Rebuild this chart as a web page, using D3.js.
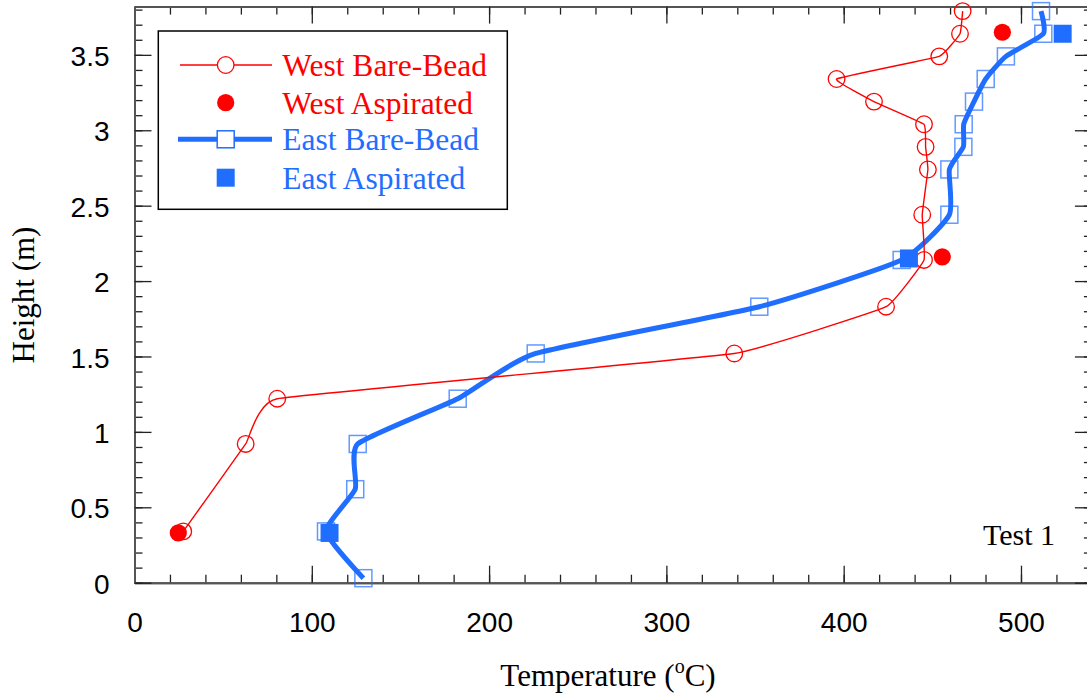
<!DOCTYPE html>
<html>
<head>
<meta charset="utf-8">
<script src="https://d3js.org/d3.v7.min.js"></script>
<style>
  body { margin: 0; background: #fff; overflow: hidden; }
  svg { display: block; }
</style>
</head>
<body>
<svg id="chart" width="1087" height="700"></svg>
<script>
// values
const westHeight = [0.34, 0.92, 1.22, 1.52, 1.83, 2.14, 2.44, 2.74, 2.89, 3.04, 3.19, 3.34, 3.49, 3.64, 3.79];
const westTemp   = [27.5, 62.7, 80.5, 338.3, 423.9, 445.3, 444.3, 447.5, 446.2, 445.3, 417.1, 396, 453.9, 465.6, 467.1];
const eastHeight = [0.03, 0.34, 0.62, 0.92, 1.22, 1.52, 1.83, 2.14, 2.44, 2.74, 2.89, 3.04, 3.19, 3.34, 3.49, 3.64, 3.79];
const eastTemp   = [129.1, 108, 124.5, 125.9, 182.3, 226.3, 352.4, 432.7, 459.6, 459.6, 467.5, 467.7, 473.5, 480.1, 491.5, 512.6, 511.3];
const westAspHeight = [0.33, 2.16, 3.65];
const westAspTemp   = [24.7, 455.6, 489.5];
const eastAspHeight = [0.33, 2.15, 3.64];
const eastAspTemp   = [110, 436.8, 523.5];

const xTicks = [0, 100, 200, 300, 400, 500];
const yTicks = [0, 0.5, 1, 1.5, 2, 2.5, 3, 3.5];
const legendLabels = ['West Bare-Bead', 'West Aspirated', 'East Bare-Bead', 'East Aspirated'];

const RED = '#ff0000';
const BLUE = '#1f6eff';

const svg = d3.select('svg#chart');

const x = d3.scaleLinear().domain([0, 540]).range([134.5, 1091.9]);
const y = d3.scaleLinear().domain([0, 3.82]).range([582.7, 6.6]);

// axes (ticks point inward on all four sides)
const xMinor = d3.range(0, 541, 20);
const yMinor = d3.range(0, 38.2, 1).map(v => v / 10);

function styleAxis(g) {
    g.select('.domain').attr('stroke', '#555').attr('stroke-width', 2);
    g.selectAll('.tick line').attr('stroke', '#222').attr('stroke-width', 1.3);
    g.selectAll('.tick text')
        .attr('font-family', 'Liberation Sans, Arial, sans-serif')
        .attr('font-size', 28).attr('fill', '#000');
}

svg.append('g').attr('transform', 'translate(0,582.7)')
    .call(d3.axisBottom(x).tickValues(xMinor).tickSize(-8).tickSizeOuter(0).tickFormat(''))
    .call(styleAxis);
svg.append('g').attr('transform', 'translate(0,582.7)')
    .call(d3.axisBottom(x).tickValues(xTicks).tickSize(-17).tickSizeOuter(0).tickPadding(29).tickFormat(d => String(d)))
    .call(styleAxis);
svg.append('g').attr('transform', 'translate(0,6.6)')
    .call(d3.axisTop(x).tickValues(xMinor).tickSize(-8).tickSizeOuter(0).tickFormat(''))
    .call(styleAxis);
svg.append('g').attr('transform', 'translate(0,6.6)')
    .call(d3.axisTop(x).tickValues(xTicks).tickSize(-17).tickSizeOuter(0).tickFormat(''))
    .call(styleAxis);

svg.append('g').attr('transform', 'translate(134.5,0)')
    .call(d3.axisLeft(y).tickValues(yMinor).tickSize(-8).tickSizeOuter(0).tickFormat(''))
    .call(styleAxis);
svg.append('g').attr('transform', 'translate(134.5,0)')
    .call(d3.axisLeft(y).tickValues(yTicks).tickSize(-17).tickSizeOuter(0).tickPadding(25).tickFormat(d => String(d)))
    .call(styleAxis)
    .selectAll('.tick text').attr('dy', '0.38em');
svg.append('g').attr('transform', 'translate(1091.9,0)')
    .call(d3.axisRight(y).tickValues(yMinor).tickSize(-8).tickSizeOuter(0).tickFormat(''))
    .call(styleAxis);
svg.append('g').attr('transform', 'translate(1091.9,0)')
    .call(d3.axisRight(y).tickValues(yTicks).tickSize(-17).tickSizeOuter(0).tickFormat(''))
    .call(styleAxis);

// series
const west = westHeight.map((h, i) => ({h: h, t: westTemp[i]}));
const east = eastHeight.map((h, i) => ({h: h, t: eastTemp[i]}));
const westAsp = westAspHeight.map((h, i) => ({h: h, t: westAspTemp[i]}));
const eastAsp = eastAspHeight.map((h, i) => ({h: h, t: eastAspTemp[i]}));

const eastLine = d3.line().x(d => x(d.t)).y(d => y(d.h)).curve(d3.curveCardinal.tension(0.5));
const westLine = d3.line().x(d => x(d.t)).y(d => y(d.h)).curve(d3.curveCardinal.tension(0.75));

svg.append('path').datum(east)
    .attr('d', eastLine).attr('fill', 'none')
    .attr('stroke', BLUE).attr('stroke-width', 5).attr('stroke-linejoin', 'round');

const sq = 17;
svg.selectAll('rect.east').data(east).join('rect')
    .attr('class', 'east')
    .attr('x', d => x(d.t) - sq / 2).attr('y', d => y(d.h) - sq / 2)
    .attr('width', sq).attr('height', sq)
    .attr('fill', 'none').attr('stroke', BLUE).attr('stroke-opacity', 0.7).attr('stroke-width', 1.5);

svg.append('path').datum(west)
    .attr('d', westLine).attr('fill', 'none')
    .attr('stroke', RED).attr('stroke-width', 1.4);

svg.selectAll('circle.west').data(west).join('circle')
    .attr('class', 'west')
    .attr('cx', d => x(d.t)).attr('cy', d => y(d.h)).attr('r', 8.3)
    .attr('fill', 'none').attr('stroke', RED).attr('stroke-width', 1.3);

svg.selectAll('circle.westAsp').data(westAsp).join('circle')
    .attr('class', 'westAsp')
    .attr('cx', d => x(d.t)).attr('cy', d => y(d.h)).attr('r', 8.6)
    .attr('fill', RED);

const fsq = 18;
svg.selectAll('rect.eastAsp').data(eastAsp).join('rect')
    .attr('class', 'eastAsp')
    .attr('x', d => x(d.t) - fsq / 2).attr('y', d => y(d.h) - fsq / 2)
    .attr('width', fsq).attr('height', fsq)
    .attr('fill', BLUE);

// axis titles
const serif = 'Liberation Serif, Times New Roman, serif';
const xt = svg.append('text')
    .attr('x', 608).attr('y', 686)
    .attr('text-anchor', 'middle')
    .attr('font-family', serif).attr('font-size', 31).attr('fill', '#000');
xt.append('tspan').text('Temperature (');
xt.append('tspan').attr('font-size', 20).attr('dy', -13).text('o');
xt.append('tspan').attr('dy', 13).text('C)');

svg.append('text')
    .attr('transform', 'translate(34,295) rotate(-90)')
    .attr('text-anchor', 'middle')
    .attr('font-family', serif).attr('font-size', 31).attr('fill', '#000')
    .text('Height (m)');

svg.append('text')
    .attr('x', 1055).attr('y', 545)
    .attr('text-anchor', 'end')
    .attr('font-family', serif).attr('font-size', 30).attr('fill', '#000')
    .text('Test 1');

// legend
const lg = svg.append('g');
lg.append('rect')
    .attr('x', 158.3).attr('y', 31).attr('width', 349).attr('height', 178.3)
    .attr('fill', '#fff').attr('stroke', '#000').attr('stroke-width', 1.5);

const rowY = [65, 102.7, 139.3, 177.7];
const rowColor = [RED, RED, BLUE, BLUE];
const mx = 225.7;

lg.append('line').attr('x1', 180).attr('x2', 272).attr('y1', rowY[0]).attr('y2', rowY[0])
    .attr('stroke', RED).attr('stroke-width', 1.4);
lg.append('circle').attr('cx', mx).attr('cy', rowY[0]).attr('r', 8.3)
    .attr('fill', '#fff').attr('stroke', RED).attr('stroke-width', 1.3);
lg.append('circle').attr('cx', mx).attr('cy', rowY[1]).attr('r', 8.6).attr('fill', RED);
lg.append('line').attr('x1', 178).attr('x2', 272).attr('y1', rowY[2]).attr('y2', rowY[2])
    .attr('stroke', BLUE).attr('stroke-width', 5);
lg.append('rect').attr('x', mx - sq / 2).attr('y', rowY[2] - sq / 2).attr('width', sq).attr('height', sq)
    .attr('fill', '#fff').attr('stroke', BLUE).attr('stroke-width', 1.5);
lg.append('rect').attr('x', mx - fsq / 2).attr('y', rowY[3] - fsq / 2).attr('width', fsq).attr('height', fsq)
    .attr('fill', BLUE);

lg.selectAll('text.lab').data(legendLabels).join('text')
    .attr('class', 'lab')
    .attr('x', 282.3).attr('y', (d, i) => rowY[i] + 11)
    .attr('font-family', serif).attr('font-size', 31.5)
    .attr('fill', (d, i) => rowColor[i])
    .text(d => d);
</script>
</body>
</html>
